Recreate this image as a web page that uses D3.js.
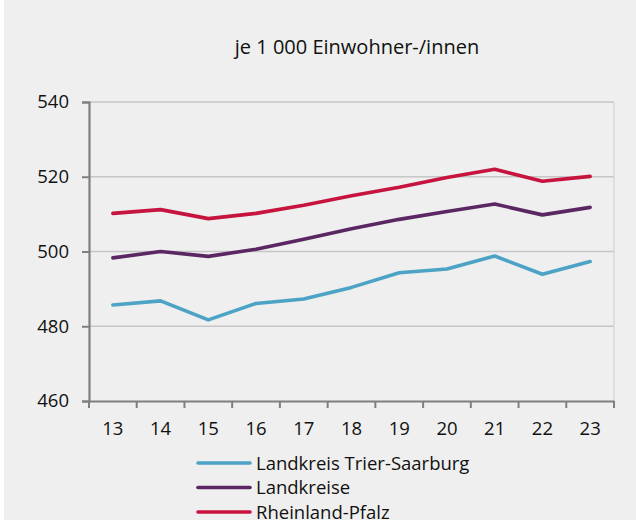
<!DOCTYPE html>
<html>
<head>
<meta charset="utf-8">
<script src="https://cdn.jsdelivr.net/npm/d3@7"></script>
<style>
body{margin:0;background:#fff;}
#container{width:636px;height:520px;}
</style>
</head>
<body>
<div id="container"></div>
<script>
const years = ["13","14","15","16","17","18","19","20","21","22","23"];
const trierSaarburg = [485.7,486.8,481.7,486.1,487.3,490.4,494.3,495.3,498.8,493.9,497.3];
const landkreise = [498.3,500.0,498.7,500.6,503.3,506.1,508.6,510.7,512.7,509.8,511.8];
const rheinlandPfalz = [510.2,511.2,508.8,510.2,512.4,514.9,517.2,519.8,522.0,518.8,520.1];
const yTicks = [460,480,500,520,540];
const seriesNames = ["Landkreis Trier-Saarburg","Landkreise","Rheinland-Pfalz"];
const colors = ["#4ca3c6","#5b2763","#c6143f"];

const w = 636, h = 520;
const plotL = 89, plotR = 614, plotT = 102, plotB = 401;
const font = "'Open Sans', sans-serif";

const svg = d3.select("#container").append("svg")
  .attr("width", w).attr("height", h);

svg.append("rect").attr("x",4).attr("y",0).attr("width",w-4).attr("height",h).attr("fill","#eeefee");

const xScale = d3.scaleBand().domain(years).range([plotL,plotR]);
const yScale = d3.scaleLinear().domain([460,540]).range([plotB,plotT]);

// gridlines
svg.append("g").selectAll("line")
  .data(yTicks.slice(1))
  .enter().append("line")
  .attr("x1",plotL).attr("x2",plotR)
  .attr("y1",d=>yScale(d)).attr("y2",d=>yScale(d))
  .attr("stroke","#c6c6c6").attr("stroke-width",1.3);

svg.append("line").attr("x1",plotR).attr("x2",plotR)
  .attr("y1",plotT).attr("y2",plotB)
  .attr("stroke","#d6d6d6").attr("stroke-width",1.3);

// y axis
const yAxis = d3.axisLeft(yScale).tickValues(yTicks).tickSize(7).tickPadding(13);
const gy = svg.append("g").attr("transform","translate("+plotL+",0)").call(yAxis);
gy.select(".domain").attr("stroke","#7f7f7f").attr("stroke-width",2.2);
gy.selectAll(".tick line").attr("stroke","#7f7f7f").attr("stroke-width",2);
gy.selectAll("text").attr("font-family",font).attr("font-size",18.5).attr("fill","#111");

// x axis
const xAxis = d3.axisBottom(xScale).tickSize(0).tickPadding(21);
const gx = svg.append("g").attr("transform","translate(0,"+plotB+")").call(xAxis);
gx.select(".domain").attr("stroke","#7f7f7f").attr("stroke-width",2.2);
gx.selectAll("text").attr("font-family",font).attr("font-size",18.5).attr("fill","#111");
const bounds = years.map(d=>xScale(d)).concat([plotR]);
gx.selectAll(".bt").data(bounds).enter().append("line")
  .attr("x1",d=>d).attr("x2",d=>d).attr("y1",0).attr("y2",7)
  .attr("stroke","#7f7f7f").attr("stroke-width",2);

// lines
const line = d3.line()
  .x((d,i)=>xScale(years[i])+xScale.bandwidth()/2)
  .y(d=>yScale(d));
[trierSaarburg,landkreise,rheinlandPfalz].forEach((s,i)=>{
  svg.append("path").datum(s)
    .attr("d",line)
    .attr("fill","none")
    .attr("stroke",colors[i])
    .attr("stroke-width",3.6)
    .attr("stroke-linejoin","round")
    .attr("stroke-linecap","round");
});

// title
svg.append("text").attr("x",357).attr("y",54)
  .attr("text-anchor","middle")
  .attr("font-family",font).attr("font-size",20).attr("fill","#111")
  .text("je 1 000 Einwohner-/innen");

// legend
const lg = svg.append("g");
seriesNames.forEach((n,i)=>{
  const y = 463 + i*24.5;
  lg.append("line").attr("x1",198).attr("x2",250).attr("y1",y).attr("y2",y)
    .attr("stroke",colors[i]).attr("stroke-width",3.6).attr("stroke-linecap","round");
  lg.append("text").attr("x",256).attr("y",y+6.5)
    .attr("font-family",font).attr("font-size",18.5).attr("fill","#111")
    .text(n);
});
</script>
</body>
</html>
